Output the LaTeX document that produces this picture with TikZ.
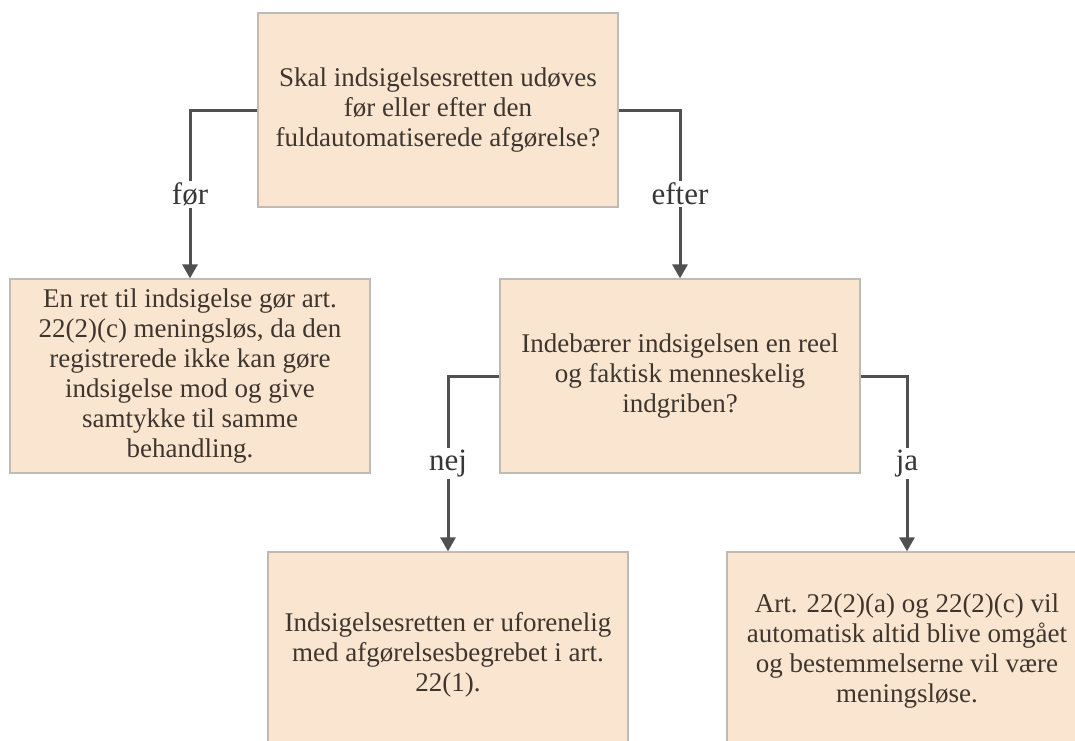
\documentclass[tikz,border=0pt]{standalone}
\usepackage{fontspec}
\setmainfont{Liberation Serif}
\usetikzlibrary{arrows.meta}
\definecolor{cBox}{RGB}{250,230,208}
\definecolor{cEdge}{RGB}{192,186,180}
\definecolor{cText}{RGB}{62,54,46}
\definecolor{cLine}{RGB}{80,80,80}
\definecolor{cLabel}{RGB}{55,55,55}
\tikzset{
  qbox/.style={rectangle, draw=cEdge, line width=1.3pt, fill=cBox,
               text=cText, align=center, inner sep=0pt,
               font=\fontsize{27}{30}\selectfont,
               minimum width=360pt, minimum height=194pt},
  answer/.style={fill=white, text=cLabel, inner sep=2pt,
                 font=\fontsize{31}{34}\selectfont},
  arrow/.style={-{Triangle[width=15pt,length=14pt]}, line width=3pt,
                color=cLine}
}
\begin{document}
\begin{tikzpicture}[x=1pt, y=-1pt]
  \useasboundingbox (0,0) rectangle (1075,740);
  \clip (0,0) rectangle (1075,740);

  \node[qbox] (q1) at (438,110)
      {Skal indsigelsesretten udøves\\ før eller efter den\\
       fuldautomatiserede afgørelse?};
  \node[qbox] (pre) at (190,376)
      {En ret til indsigelse gør art.\\ 22(2)(c) meningsløs, da den\\
       registrerede ikke kan gøre\\ indsigelse mod og give\\
       samtykke til samme\\ behandling.};
  \node[qbox] (q2) at (680,376)
      {Indebærer indsigelsen en reel\\ og faktisk menneskelig\\ indgriben?};
  \node[qbox, minimum height=206pt] (no) at (448,655)
      {Indsigelsesretten er uforenelig\\ med afgørelsesbegrebet i art.\\ 22(1).};
  \node[qbox, minimum height=198pt] (yes) at (907,651)
      {Art. 22(2)(a) og 22(2)(c) vil\\ automatisk altid blive omgået\\
       og bestemmelserne vil være\\ meningsløse.};

  \foreach \from/\to/\txt in {q1.west/pre/før, q1.east/q2/efter,
                              q2.west/no/nej, q2.east/yes/ja}
    \draw[arrow] (\from) -| node[answer, pos=0.75] {\txt} (\to.north);
\end{tikzpicture}
\end{document}
